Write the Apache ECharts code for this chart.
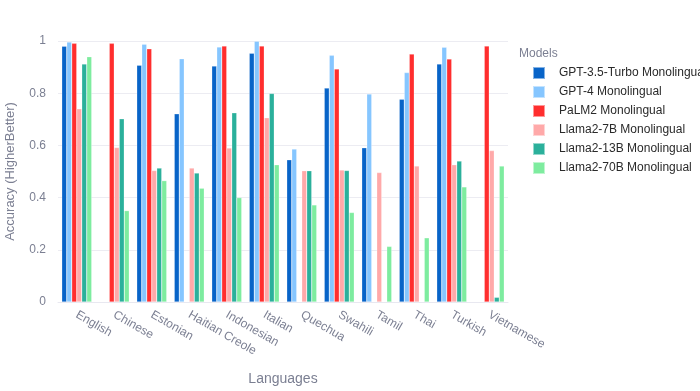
<!DOCTYPE html>
<html>
<head>
<meta charset="UTF-8">
<title>Accuracy by language</title>
<script src="https://cdn.jsdelivr.net/npm/echarts@6/dist/echarts.min.js"></script>
<style>
  html, body { margin: 0; padding: 0; background: #fff; }
  #chart { width: 700px; height: 391px; }
</style>
</head>
<body>
<div id="chart"></div>
<script>
// data (null = no bar)
const languages = ['English', 'Chinese', 'Estonian', 'Haitian Creole', 'Indonesian', 'Italian',
  'Quechua', 'Swahili', 'Tamil', 'Thai', 'Turkish', 'Vietnamese'];
const gpt35 = [0.98, null, 0.907, 0.721, 0.904, 0.953, 0.545, 0.82, 0.591, 0.777, 0.912, null];
const gpt4 = [0.996, null, 0.988, 0.932, 0.977, 0.999, 0.586, 0.945, 0.797, 0.879, 0.976, null];
const palm2 = [0.991, 0.991, 0.97, null, 0.981, 0.981, null, 0.893, null, 0.95, 0.931, 0.981];
const llama7b = [0.74, 0.592, 0.504, 0.513, 0.59, 0.706, 0.503, 0.506, 0.496, 0.521, 0.526, 0.58];
const llama13b = [0.912, 0.702, 0.513, 0.494, 0.725, 0.799, 0.503, 0.504, null, null, 0.54, 0.018];
const llama70b = [0.94, 0.35, 0.465, 0.436, 0.4, 0.526, 0.372, 0.343, 0.213, 0.246, 0.441, 0.521];
const yTicks = [0, 0.2, 0.4, 0.6, 0.8, 1];

const models = [
  { name: 'GPT-3.5-Turbo Monolingual', data: gpt35, color: '#0864c8' },
  { name: 'GPT-4 Monolingual', data: gpt4, color: '#86c6ff' },
  { name: 'PaLM2 Monolingual', data: palm2, color: '#ff2e2e' },
  { name: 'Llama2-7B Monolingual', data: llama7b, color: '#ffa9a9' },
  { name: 'Llama2-13B Monolingual', data: llama13b, color: '#2bb09b' },
  { name: 'Llama2-70B Monolingual', data: llama70b, color: '#7eec9f' }
];

const chart = echarts.init(document.getElementById('chart'));
const grey = '#7b7f92';

chart.setOption({
  animation: false,
  textStyle: { fontFamily: 'Liberation Sans, Arial, sans-serif' },
  title: {
    text: 'Models',
    left: 514, top: 43,
    textStyle: { fontSize: 12, fontWeight: 'normal', color: grey }
  },
  legend: {
    orient: 'vertical',
    left: 527, top: 61,
    itemWidth: 12, itemHeight: 12,
    itemGap: 5,
    icon: 'rect',
    textStyle: { fontSize: 12, color: '#2a2a2a', padding: [0, 0, 0, 9] },
    data: models.map(m => m.name)
  },
  grid: { left: 58, right: 192, top: 41, bottom: 89, outerBoundsMode: 'none' },
  xAxis: {
    type: 'category',
    data: languages,
    name: 'Languages',
    nameLocation: 'middle',
    nameGap: 70,
    nameTextStyle: { fontSize: 14, color: grey },
    axisLine: { lineStyle: { color: '#e8e8f0' } },
    axisTick: { show: false },
    axisLabel: { rotate: -30, color: grey, fontSize: 12, margin: 12 }
  },
  yAxis: {
    type: 'value',
    min: 0, max: 1, interval: 0.2,
    name: 'Accuracy (HigherBetter)',
    nameLocation: 'middle',
    nameGap: 41,
    nameTextStyle: { fontSize: 13, color: grey },
    axisLabel: {
      color: grey, fontSize: 12, margin: 12,
      formatter: v => yTicks.includes(+v.toFixed(1)) ? String(+v.toFixed(1)) : ''
    },
    splitLine: { lineStyle: { color: '#ececf2' } }
  },
  series: models.map(m => ({
    name: m.name,
    type: 'bar',
    data: m.data,
    barGap: '0%',
    barCategoryGap: '20%',
    itemStyle: { color: m.color, borderColor: 'rgba(255,255,255,0.5)', borderWidth: 0.5 }
  }))
});
</script>
</body>
</html>
